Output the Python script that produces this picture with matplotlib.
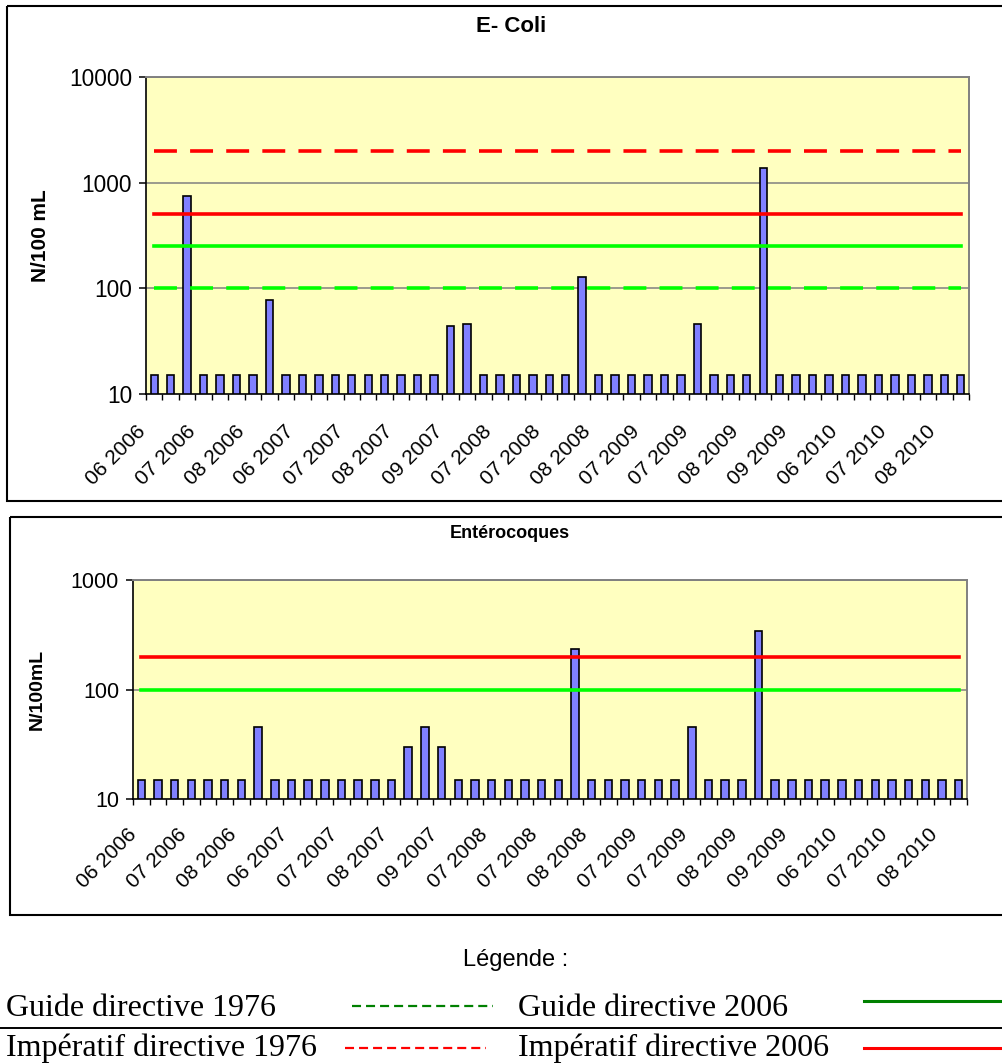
import numpy as np
import matplotlib
matplotlib.use("Agg")
import matplotlib.pyplot as plt
from matplotlib.patches import Rectangle
from matplotlib.lines import Line2D
from matplotlib.transforms import ScaledTranslation
from matplotlib.ticker import FixedLocator, FixedFormatter, NullLocator

plt.rcParams['lines.scale_dashes'] = False
plt.rcParams['font.family'] = ['Liberation Sans', 'DejaVu Sans']

# ---- data -------------------------------------------------------------
tick_labels = ["06 2006", "07 2006", "08 2006", "06 2007", "07 2007", "08 2007",
               "09 2007", "07 2008", "07 2008", "08 2008", "07 2009", "07 2009",
               "08 2009", "09 2009", "06 2010", "07 2010", "08 2010"]

ecoli = [15, 15, 750, 15, 15, 15, 15, 77, 15, 15,
         15, 15, 15, 15, 15, 15, 15, 15, 44, 46,
         15, 15, 15, 15, 15, 15, 128, 15, 15, 15,
         15, 15, 15, 46, 15, 15, 15, 1380, 15, 15,
         15, 15, 15, 15, 15, 15, 15, 15, 15, 15]

entero = [15, 15, 15, 15, 15, 15, 15, 45, 15, 15,
          15, 15, 15, 15, 15, 15, 30, 45, 30, 15,
          15, 15, 15, 15, 15, 15, 233, 15, 15, 15,
          15, 15, 15, 45, 15, 15, 15, 344, 15, 15,
          15, 15, 15, 15, 15, 15, 15, 15, 15, 15]

ecoli_guide_1976 = 100
ecoli_imper_1976 = 2000
ecoli_guide_2006 = 250
ecoli_imper_2006 = 500
entero_guide_2006 = 100
entero_imper_2006 = 200

# ---- figure -----------------------------------------------------------
W, H, DPI = 1003, 1063, 100
fig = plt.figure(figsize=(W / DPI, H / DPI), dpi=DPI)
fig.patch.set_facecolor('white')

# pixel overlay for frames, titles and the legend block
ov = fig.add_axes([0, 0, 1, 1], zorder=-1)
ov.set_xlim(0, W)
ov.set_ylim(H, 0)
ov.axis('off')


def px_axes(l, t, r, b):
    return fig.add_axes([l / W, 1 - b / H, (r - l) / W, (b - t) / H])


BAR_C = '#8080FF'
BG_C = '#FFFFC0'
GREEN = '#00FF00'
RED = '#FF0000'
LW = 2.6  # pt
DASH = (0, (16.5, 9.5))


def style_axes(ax, values, ymax, yticks, ylab_fs, xoff_px, pad_px):
    n = len(values)
    x = np.arange(n)
    ax.set_facecolor(BG_C)
    ax.set_yscale('log')
    ax.set_ylim(10, ymax)
    ax.set_xlim(-0.5, n - 0.5)
    ax.bar(x, np.array(values) - 10, bottom=10, width=0.45, color=BAR_C,
           edgecolor='black', linewidth=1.2, zorder=3)
    for yv in yticks[1:]:
        ax.axhline(yv, color='#808080', lw=1.1, zorder=1)
    ax.yaxis.set_major_locator(FixedLocator(yticks))
    ax.yaxis.set_major_formatter(FixedFormatter([str(v) for v in yticks]))
    ax.yaxis.set_minor_locator(NullLocator())
    ax.tick_params(axis='y', which='major', length=5, width=1.1, pad=5,
                   labelsize=ylab_fs, direction='out')
    ax.xaxis.set_minor_locator(FixedLocator(np.arange(-0.5, n, 1.0)))
    ax.tick_params(axis='x', which='minor', length=4.5, width=1.0,
                   direction='out')
    ax.set_xticks(np.arange(0, n, 3))
    ax.set_xticklabels(tick_labels)
    ax.tick_params(axis='x', which='major', length=0, pad=pad_px * 0.72,
                   labelsize=15)
    off = ScaledTranslation(xoff_px / DPI, 0, fig.dpi_scale_trans)
    for lab in ax.get_xticklabels():
        lab.set_rotation(45)
        lab.set_rotation_mode('anchor')
        lab.set_ha('right')
        lab.set_va('top')
        lab.set_transform(lab.get_transform() + off)
    for s in ('left', 'bottom'):
        ax.spines[s].set_color('black')
        ax.spines[s].set_linewidth(1.2)
    for s in ('top', 'right'):
        ax.spines[s].set_color('#808080')
        ax.spines[s].set_linewidth(1.4)
    return x


# ---- E. coli ----------------------------------------------------------
ax1 = px_axes(146, 77, 969, 394)
x1 = style_axes(ax1, ecoli, 10000, [10, 100, 1000, 10000], 16.3, -18, 28)
ax1.plot(x1, [ecoli_guide_1976] * len(x1), color=GREEN, lw=LW, ls=DASH, zorder=4)
ax1.plot(x1, [ecoli_imper_1976] * len(x1), color=RED, lw=LW, ls=DASH, zorder=4)
ax1.plot(x1, [ecoli_guide_2006] * len(x1), color=GREEN, lw=LW, zorder=4)
ax1.plot(x1, [ecoli_imper_2006] * len(x1), color=RED, lw=LW, zorder=4)
ax1.set_ylabel('N/100 mL', fontsize=15, fontweight='bold', labelpad=14)

# ---- Entérocoques -----------------------------------------------------
ax2 = px_axes(133, 580, 967, 799)
x2 = style_axes(ax2, entero, 1000, [10, 100, 1000], 15.5, -14, 26)
ax2.plot(x2, [entero_guide_2006] * len(x2), color=GREEN, lw=LW, zorder=4)
ax2.plot(x2, [entero_imper_2006] * len(x2), color=RED, lw=LW, zorder=4)
ax2.set_ylabel('N/100mL', fontsize=14, fontweight='bold', labelpad=18)

# ---- frames and titles ------------------------------------------------
ov.add_patch(Rectangle((7, 6), 1010, 495, fill=False, ec='black', lw=1.5))
ov.add_patch(Rectangle((10, 517), 1010, 398, fill=False, ec='black', lw=1.5))
ov.text(511, 27, 'E- Coli', ha='center', va='center', fontsize=16,
        fontweight='bold')
ov.text(510, 534, 'Entérocoques', ha='center', va='center', fontsize=13,
        fontweight='bold')

# ---- legend block -----------------------------------------------------
serif = ['Liberation Serif', 'DejaVu Serif']
ov.text(516, 960, 'Légende :', ha='center', va='center', fontsize=17)
ov.text(6, 1016, 'Guide directive 1976', ha='left', va='baseline',
        fontsize=23, family=serif)
ov.text(518, 1016, 'Guide directive 2006', ha='left', va='baseline',
        fontsize=23, family=serif)
ov.text(6, 1056, 'Impératif directive 1976', ha='left', va='baseline',
        fontsize=23, family=serif)
ov.text(518, 1056, 'Impératif directive 2006', ha='left', va='baseline',
        fontsize=23, family=serif)
ov.add_line(Line2D([352, 493], [1006, 1006], color='#008000', lw=1.6,
                   ls=(0, (6.5, 3.6))))
ov.add_line(Line2D([864, 1003], [1001, 1001], color='#008000', lw=2.2))
ov.add_line(Line2D([345, 486], [1048, 1048], color=RED, lw=1.6,
                   ls=(0, (6.5, 3.6))))
ov.add_line(Line2D([864, 1003], [1048, 1048], color=RED, lw=2.2))
ov.add_line(Line2D([0, 1003], [1028, 1028], color='black', lw=1.4))

fig.savefig('out.png', dpi=DPI)
